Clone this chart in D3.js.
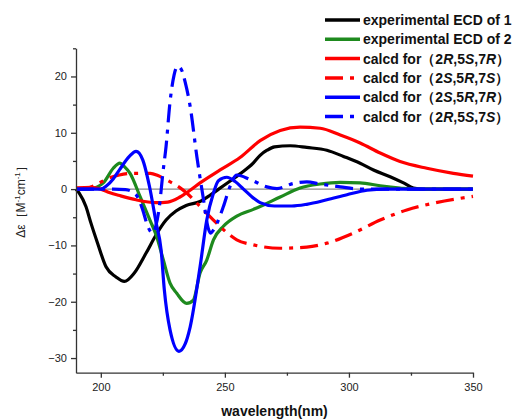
<!DOCTYPE html>
<html><head><meta charset="utf-8">
<script src="https://cdn.jsdelivr.net/npm/d3@7"></script>
<style>
body{margin:0;background:#fff;}
svg{display:block;font-family:"Liberation Sans",Arial,sans-serif;}
</style></head><body>
<svg id="c" width="515" height="420"></svg>
<script>
// ---- data (wavelength nm, Δε) ----
const exp1 = [[190,0],[191.3,-0.7],[194,-3.1],[196,-6.0],[198.7,-9.6],[202.1,-13.8],[206.1,-15.6],[209.5,-16.4],[213.5,-14.9],[218.2,-11.4],[222.3,-8.1],[226.3,-5.5],[230.3,-3.9],[234.4,-2.9],[240,-2.2],[244,-1.1],[247.5,0],[252,1.4],[256.1,2.7],[261.4,4.6],[264.2,6.0],[267,6.9],[270,7.5],[276.3,7.7],[283,7.4],[291.1,6.9],[297.8,5.8],[304.5,4.6],[309.9,3.4],[316.6,2.2],[322,1.1],[326,0.2],[330,0],[350,0]];
const exp2 = [[190,0],[196,0.1],[201,1.1],[205,3.7],[207.7,4.6],[209.5,4.0],[211.8,2.8],[215.8,-1.3],[219.8,-5.5],[222.5,-8.4],[225.2,-12.6],[227.9,-16.7],[230.6,-18.5],[234.6,-20.3],[237.3,-19.7],[240,-14.9],[242.7,-12.6],[245.4,-9.0],[249.4,-6.6],[254.8,-4.8],[261.5,-3.6],[264.2,-3.1],[272.3,-1.4],[280.3,0.2],[288.4,0.9],[296.5,1.2],[304.5,1.1],[312.6,0.6],[320.6,0.2],[326,0],[350,0]];
const calc2R5S7R = [[190,0.2],[196,0.3],[200,0],[203.4,-0.6],[208,-1.2],[214.2,-1.9],[222.3,-2.4],[227,-2.3],[231.9,-1.4],[236,-0.2],[240,1.1],[248.1,3.4],[256.1,5.6],[264.2,8.6],[272.3,10.4],[280.3,11.0],[288.4,10.8],[296.5,9.6],[304.5,8.2],[312.6,6.4],[320.6,4.9],[331.4,3.7],[342.1,2.8],[350,2.3]];
const calc2S5R7S = [[190,0],[194,0.1],[198.1,0.8],[203,1.9],[207.5,2.5],[212.9,2.8],[220,2.8],[223,2.4],[226.6,1.6],[231.7,0.3],[234.6,-0.7],[240,-3.1],[245.4,-5.5],[249.4,-7.2],[254.8,-9.0],[261.5,-9.9],[272.3,-10.5],[283,-10.3],[291.1,-9.6],[301.8,-7.8],[312.6,-5.5],[323.3,-3.7],[334.1,-2.5],[350,-1.3]];
const calc2S5R7R = [[190,0],[200,0],[202.1,0.5],[205,1.8],[207.5,3.4],[211.5,5.8],[214.2,6.7],[216.9,5.2],[219.6,0.5],[222.3,-6.0],[224.3,-10.8],[225.6,-17.9],[227.9,-25.0],[231.5,-28.8],[234,-27.5],[236,-24.5],[240,-13.8],[242.7,-5.5],[245.4,-0.7],[247.4,1.5],[250.8,2.1],[254,1.4],[257.5,0],[261.5,-1.6],[264.2,-2.4],[270,-3.0],[277,-3.0],[283,-2.7],[291.1,-1.9],[299.2,-1.0],[307.3,-0.2],[315,0],[350,0]];
const calc2R5S7S = [[190,0],[205,0],[210,-0.1],[214.2,-1.0],[216.9,-3.7],[218.9,-6.6],[220.9,-7.8],[222.2,-6.5],[223.6,-3.1],[225.0,2.8],[226.3,7.6],[227.9,15.5],[229.5,20.2],[230.9,21.8],[232.5,21.2],[234,19.0],[236,14.7],[238.7,5.8],[241.4,-1.9],[243.2,-6.8],[244.2,-7.8],[245.5,-7.2],[246.7,-6.2],[249.4,-3.1],[252.1,0.5],[254.8,2.5],[260.2,1.7],[266.9,0.4],[271,0.1],[277.6,1.0],[283,1.3],[288.4,0.9],[296.5,0.4],[304.5,0],[350,0]];

const xTicks = [200,250,300,350];
const xMinor = [225,275,325];
const yTicks = [-30,-20,-10,0,10,20];
const yMinor = [-25,-15,-5,5,15,25];

const series = [
  {name:"experimental ECD of 1", data:exp1, color:"#000000", dash:null},
  {name:"experimental ECD of 2", data:exp2, color:"#1e8a1e", dash:null},
  {name:["calcd for（2","R",",5","S",",7","R","）"], data:calc2R5S7R, color:"#ff0000", dash:null},
  {name:["calcd for（2","S",",5","R",",7","S","）"], data:calc2S5R7S, color:"#ff0000", dash:"18,7,4,7"},
  {name:["calcd for（2","S",",5","R",",7","R","）"], data:calc2S5R7R, color:"#0000ff", dash:null},
  {name:["calcd for（2","R",",5","S",",7","S","）"], data:calc2R5S7S, color:"#0000ff", dash:"18,7,4,7"}
];

const svg = d3.select("#c");
const x = d3.scaleLinear().domain([190,350]).range([76,473]);
const y = d3.scaleLinear().domain([-32.6,25]).range([372.7,48.3]);

// zero line
svg.append("line").attr("x1",x(190)).attr("x2",x(350)).attr("y1",y(0)).attr("y2",y(0))
  .attr("stroke","#888").attr("stroke-width",1.2);

const line = d3.line().x(d=>x(d[0])).y(d=>y(d[1])).curve(d3.curveMonotoneX);
series.forEach(s=>{
  svg.append("path").attr("d",line(s.data)).attr("fill","none")
    .attr("stroke",s.color).attr("stroke-width",3.2)
    .attr("stroke-linejoin","round")
    .attr("stroke-dasharray",s.dash);
});

// axes
function styleAxis(g){
  g.selectAll("path,line").attr("stroke","#333").attr("stroke-width",1.3);
  g.selectAll("text").attr("fill","#222").style("font-size","11px").style("font-family","'Liberation Sans',Arial,sans-serif");
}
const gx = svg.append("g").attr("transform",`translate(0,${y.range()[0]})`)
  .call(d3.axisBottom(x).tickValues(xTicks).tickSize(5).tickSizeOuter(0).tickPadding(6).tickFormat(d3.format("d")));
styleAxis(gx);
const gxm = svg.append("g").attr("transform",`translate(0,${y.range()[0]})`)
  .call(d3.axisBottom(x).tickValues(xMinor).tickSize(3).tickFormat(""));
gxm.select(".domain").remove(); styleAxis(gxm);

const gy = svg.append("g").attr("transform",`translate(${x.range()[0]},0)`)
  .call(d3.axisLeft(y).tickValues(yTicks).tickSize(5).tickSizeOuter(0).tickPadding(4).tickFormat(d3.format("d")));
styleAxis(gy);
const gym = svg.append("g").attr("transform",`translate(${x.range()[0]},0)`)
  .call(d3.axisLeft(y).tickValues(yMinor).tickSize(3).tickFormat(""));
gym.select(".domain").remove(); styleAxis(gym);

// axis titles
svg.append("text").attr("x",(x.range()[0]+x.range()[1])/2).attr("y",416)
  .attr("text-anchor","middle").attr("font-weight","bold").attr("font-size","14px").attr("fill","#111")
  .text("wavelength(nm)");
const yl = svg.append("text").attr("transform","translate(25,199) rotate(-90)")
  .attr("text-anchor","middle").attr("font-size","12px").attr("fill","#222");
yl.append("tspan").text("Δε［M");
yl.append("tspan").attr("dy",-5).attr("font-size","8px").text("-1");
yl.append("tspan").attr("dy",5).text("cm");
yl.append("tspan").attr("dy",-5).attr("font-size","8px").text("-1");
yl.append("tspan").attr("dy",5).text("］");

// legend
const legY0 = 20, legDy = 19.3;
series.forEach((s,i)=>{
  const yy = legY0 + i*legDy;
  svg.append("line").attr("x1",325).attr("x2",360).attr("y1",yy).attr("y2",yy)
    .attr("stroke",s.color).attr("stroke-width",3.5).attr("stroke-dasharray",s.dash);
  const t = svg.append("text").attr("x",363).attr("y",yy+5)
    .attr("font-weight","bold").attr("font-size","14px").attr("fill","#111");
  if (Array.isArray(s.name)) {
    s.name.forEach((p,j)=>{
      const ts = t.append("tspan").text(p);
      if (j%2===1) ts.attr("font-style","italic");
    });
  } else t.text(s.name);
});
</script></body></html>
